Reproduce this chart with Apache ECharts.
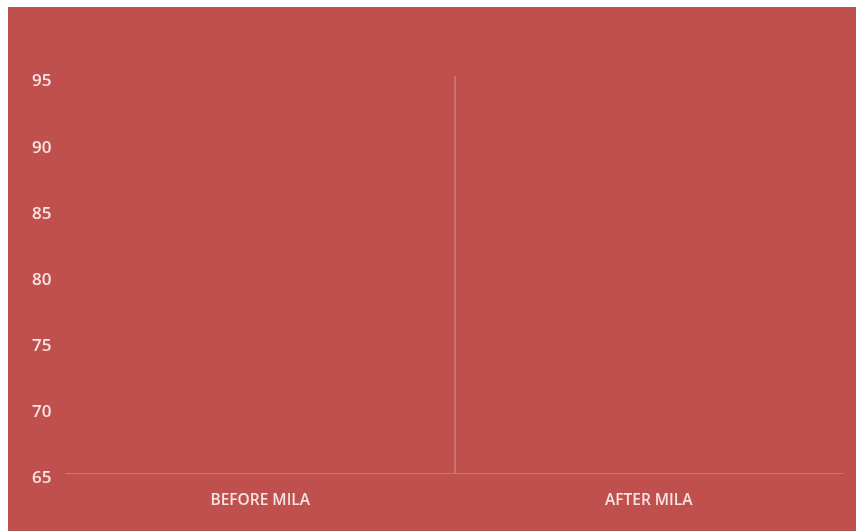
<!DOCTYPE html>
<html>
<head>
<meta charset="utf-8">
<script src="https://cdn.jsdelivr.net/npm/echarts@6/dist/echarts.min.js"></script>
<style>
html,body{margin:0;padding:0;background:#ffffff;}
#chart{position:absolute;left:8px;top:7px;width:848px;height:524px;}
</style>
</head>
<body>
<div id="chart"></div>
<script>
const categories = ['BEFORE MILA', 'AFTER MILA'];
const seriesValues = [null, null];
const yMin = 65;
const yMax = 95;
const yInterval = 5;

const chart = echarts.init(document.getElementById('chart'), null, {renderer: 'canvas'});
const labelColor = '#f6e4e3';
chart.setOption({
  animation: false,
  backgroundColor: '#c0504d',
  grid: {left: 58, right: 13, top: 69, bottom: 58, containLabel: false},
  xAxis: {
    type: 'category',
    data: categories,
    boundaryGap: true,
    axisLine: {show: true, lineStyle: {color: 'rgba(255,255,255,0.22)', width: 1}},
    axisTick: {show: false},
    axisLabel: {color: labelColor, fontFamily: 'Open Sans', fontSize: 15.5, fontWeight: 600, margin: 20},
    splitLine: {show: true, interval: 0, lineStyle: {color: ['rgba(0,0,0,0)', 'rgba(255,255,255,0.25)', 'rgba(0,0,0,0)'], width: 1.5}}
  },
  yAxis: {
    type: 'value',
    min: yMin,
    max: yMax,
    interval: yInterval,
    axisLine: {show: false},
    axisTick: {show: false},
    splitLine: {show: false},
    axisLabel: {
      margin: 34, align: 'left',
      formatter: '{v|{value}}',
      rich: {v: {color: labelColor, fontFamily: 'Open Sans', fontSize: 17, fontWeight: 600, padding: [11, 0, 0, 0]}}
    }
  },
  series: [{
    type: 'bar',
    data: seriesValues,
    itemStyle: {color: '#c0504d'}
  }]
});
</script>
</body>
</html>
